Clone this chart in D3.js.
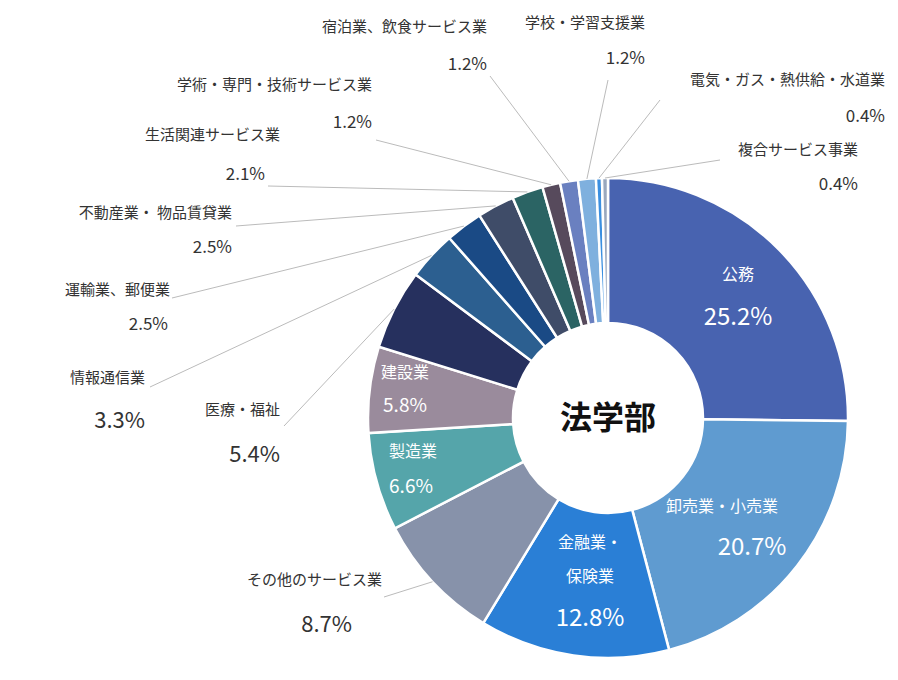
<!DOCTYPE html><html><head><meta charset="utf-8">
<script src="https://cdn.jsdelivr.net/npm/d3@7"></script>
<style>body{margin:0;background:#fff}text{font-family:"Noto Sans CJK JP","Noto Sans",sans-serif}</style></head><body>
<svg id="c" width="898" height="680"></svg>
<script>
const categories=["公務","卸売業・小売業","金融業・保険業","その他のサービス業","製造業","建設業","医療・福祉","情報通信業","運輸業、郵便業","不動産業・ 物品賃貸業","生活関連サービス業","学術・専門・技術サービス業","宿泊業、飲食サービス業","学校・学習支援業","電気・ガス・熱供給・水道業","複合サービス事業"];
const values=[25.2,20.7,12.8,8.7,6.6,5.8,5.4,3.3,2.5,2.5,2.1,1.2,1.2,1.2,0.4,0.4];
const colors=["#4863b0","#5f9bd0","#2a7fd6","#8792aa","#55a5aa","#9a8b9c","#26305e","#2c5f90","#1a4a85","#3f4c68","#2b6464","#574a5c","#6a80c0","#7fb0de","#3b8fe0","#9aa8be"];
const title="法学部";
// layout: [type, nameX, nameY, pctX, pctY, anchor, lineX, lineY, pctSize]
const lay=[
 ["in",738,280,738,325,"middle"],
 ["in",722,512,752,555,"middle"],
 ["in2",590,548,590,626,"middle"],
 ["out",382,585,352,632,"end",384,597,22],
 ["in",413,457,411,493,"middle"],
 ["in",405,378,405,412,"middle"],
 ["out",280,415,280,462,"end",284,426,22],
 ["out",145,383,145,428,"end",150,387,22],
 ["out",170,295,168,330,"end",172,298,17],
 ["out",232,218,232,253,"end",236,226,17],
 ["out",280,140,265,180,"end",268,186,17],
 ["out",372,90,372,128,"end",376,140,17],
 ["out",487,32,487,70,"end",490,76,17],
 ["out",645,28,645,64,"end",608,80,17],
 ["out",885,85,885,122,"end",660,100,17],
 ["out",858,155,858,190,"end",720,160,17]
];
const svg=d3.select("#c"),cx=608,cy=418,R=240,r0=95;
const pie=d3.pie().sort(null).value(d=>d)(values);
const arc=d3.arc().innerRadius(r0).outerRadius(R);
const g=svg.append("g").attr("transform",`translate(${cx},${cy})`);
g.selectAll("path").data(pie).join("path").attr("d",arc).attr("fill",(d,i)=>colors[i]).attr("stroke","#fff").attr("stroke-width",2.5);
g.append("text").attr("text-anchor","middle").attr("dy","0.35em").attr("font-size",32).attr("font-weight","bold").attr("fill","#111").text(title);
pie.forEach((p,i)=>{
 const L=lay[i];
 if(L[0]==="out"){
  const a=(p.startAngle+p.endAngle)/2, ex=cx+Math.sin(a)*R, ey=cy-Math.cos(a)*R;
  svg.append("polyline").attr("points",`${L[6]},${L[7]} ${ex},${ey}`).attr("fill","none").attr("stroke","#bbb").attr("stroke-width",1);
  svg.append("text").attr("x",L[1]).attr("y",L[2]).attr("text-anchor",L[5]).attr("font-size",15).attr("fill","#333").text(categories[i]);
  svg.append("text").attr("x",L[3]).attr("y",L[4]).attr("text-anchor",L[5]).attr("font-size",L[8]).attr("fill","#333").text(values[i].toFixed(1)+"%");
 } else {
  if(L[0]==="in2"){
   svg.append("text").attr("x",L[1]).attr("y",L[2]).attr("text-anchor","middle").attr("font-size",16).attr("fill","#fff").text("金融業・");
   svg.append("text").attr("x",L[1]).attr("y",L[2]+34).attr("text-anchor","middle").attr("font-size",16).attr("fill","#fff").text("保険業");
  } else svg.append("text").attr("x",L[1]).attr("y",L[2]).attr("text-anchor","middle").attr("font-size",16).attr("fill","#fff").text(categories[i]);
  svg.append("text").attr("x",L[3]).attr("y",L[4]).attr("text-anchor","middle").attr("font-size",i<3?24:19).attr("fill","#fff").text(values[i].toFixed(1)+"%");
 }
});
</script></body></html>
